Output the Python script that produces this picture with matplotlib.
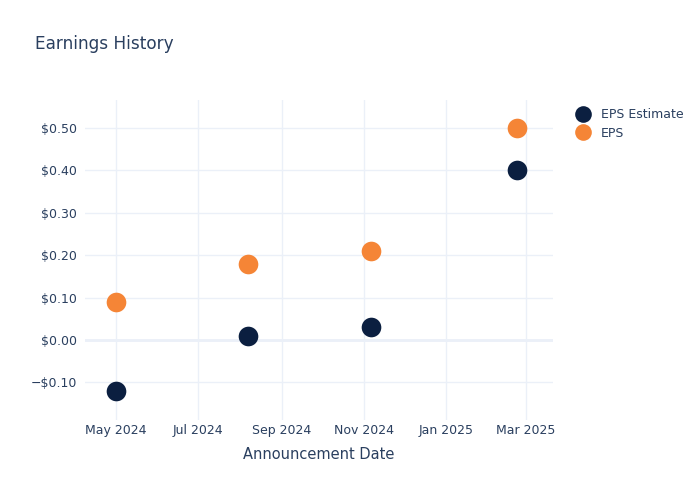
import matplotlib
matplotlib.use("Agg")
import matplotlib.pyplot as plt
import matplotlib.dates as mdates
from matplotlib.ticker import FuncFormatter
from matplotlib.lines import Line2D
import datetime as dt

dates = ["2024-05-01", "2024-08-07", "2024-11-06", "2025-02-22"]
eps_estimate = [-0.12, 0.01, 0.03, 0.40]
eps_actual = [0.09, 0.18, 0.21, 0.50]
series_names = ["EPS Estimate", "EPS"]

TEXT = "#2a3f5f"
GRID = "#ebf0f8"
NAVY = "#0b1f40"
ORANGE = "#f58536"

x = [dt.datetime.strptime(d, "%Y-%m-%d") for d in dates]

fig = plt.figure(figsize=(7, 5), dpi=100)
ax = fig.add_axes([85/700, 1-420/500, (553-85)/700, 320/500])

ax.scatter(x, eps_estimate, s=200, color=NAVY, zorder=3, linewidths=0)
ax.scatter(x, eps_actual, s=200, color=ORANGE, zorder=3, linewidths=0)

ax.set_xlim(dt.datetime(2024, 4, 8), dt.datetime(2025, 3, 21))
ax.set_ylim(-0.189, 0.566)
ax.set_yticks([-0.1, 0, 0.1, 0.2, 0.3, 0.4, 0.5])
ax.yaxis.set_major_formatter(FuncFormatter(lambda v, p: ("\u2212$%.2f" % abs(v)) if v < -1e-9 else "$%.2f" % abs(v)))
ax.xaxis.set_major_locator(mdates.MonthLocator(bymonth=[1, 3, 5, 7, 9, 11]))
ax.xaxis.set_major_formatter(mdates.DateFormatter("%b %Y"))

for s in ax.spines.values():
    s.set_visible(False)
ax.grid(True, color=GRID, linewidth=1, zorder=0)
ax.axhline(0, color=GRID, linewidth=2, zorder=1)
ax.tick_params(axis="x", length=0, colors=TEXT, labelsize=9, pad=3)
ax.tick_params(axis="y", length=0, colors=TEXT, labelsize=9, pad=6)
ax.set_xlabel("Announcement Date", color=TEXT, fontsize=10.5, labelpad=7)

fig.text(35/700, 1-44/500, "Earnings History", color=TEXT, fontsize=12.2, va="center", ha="left")

handles = [Line2D([], [], marker="o", linestyle="", markersize=12, color=NAVY, markeredgewidth=0),
           Line2D([], [], marker="o", linestyle="", markersize=12, color=ORANGE, markeredgewidth=0)]
leg = fig.legend(handles, series_names, loc="upper left", bbox_to_anchor=(570/700, 1-103/500),
                 frameon=False, fontsize=9, labelcolor=TEXT, handletextpad=0.9,
                 labelspacing=0.45, borderaxespad=0, handlelength=1.2)

fig.savefig("out.png", dpi=100)
